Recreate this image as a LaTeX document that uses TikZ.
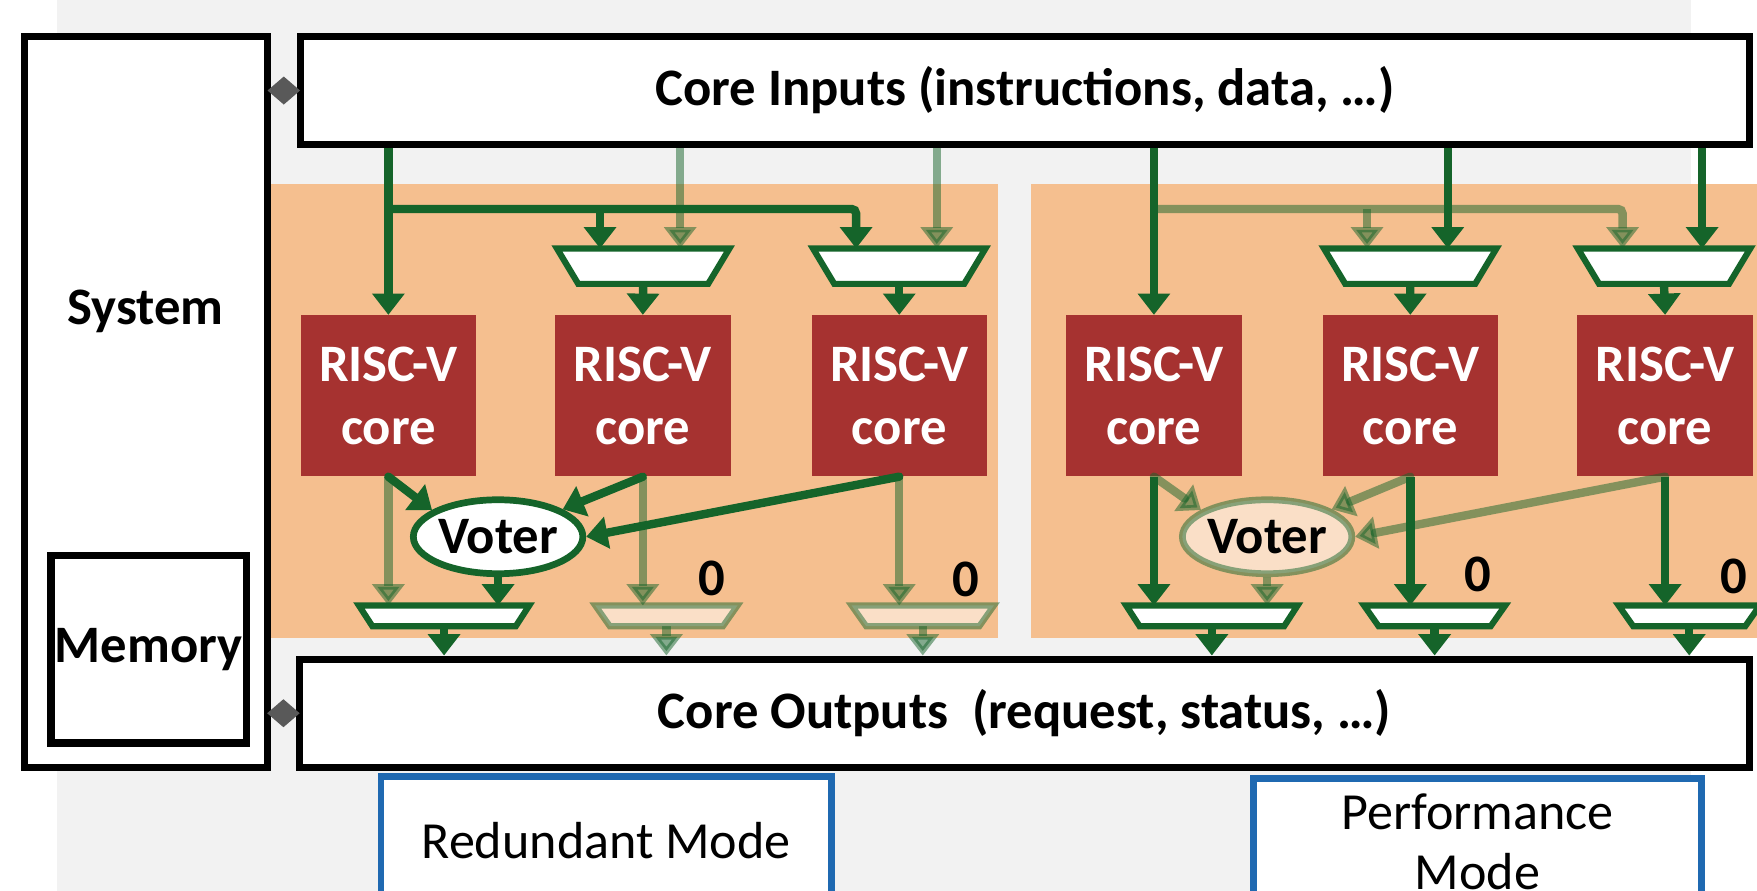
\documentclass[tikz,border=0pt]{standalone}
\usepackage{fontspec}
\setmainfont{Carlito}
\usetikzlibrary{arrows.meta,shapes.geometric,shadows}
\definecolor{gbg}{HTML}{F2F2F2}
\definecolor{org}{HTML}{F5BF8F}
\definecolor{cred}{HTML}{A63230}
\definecolor{dgreen}{HTML}{15642A}
\definecolor{mblue}{HTML}{1F69B1}
\definecolor{dgray}{HTML}{595959}
\newcommand{\muxbox}[5]{%
  \node[inner sep=0pt, outer sep=0pt, minimum width=#4, minimum height=#5] (#1) at (#2,#3) {};}
\newcommand{\muxdraw}[3]{%
  \path[#3] (#1.north west) -- (#1.north east) -- ([xshift=-#2]#1.south east) -- ([xshift=#2]#1.south west) -- cycle;}
\begin{document}
\begin{tikzpicture}[x=1pt,y=-1pt,
  big/.style={font=\fontsize{47}{56}\selectfont\bfseries},
  reg/.style={font=\fontsize{46.5}{54}\selectfont},
  box/.style={draw=black, line width=6.5pt, fill=white, inner sep=0pt, big},
  core/.style={fill=cred, minimum width=156.5pt, minimum height=144pt, inner sep=0pt, text=white, align=center, big},
  voter/.style={ellipse, draw=dgreen, line width=6pt, fill=white, minimum width=148pt, minimum height=66pt, inner sep=0pt, big},
  voterfad/.style={voter, draw opacity=0.5, fill opacity=0.5, text opacity=1},
  garrow/.style={draw=dgreen, line width=7.5pt, -{Triangle[width=28pt,length=19pt]}},
  fad/.style={opacity=0.5},
  muxline/.style={draw=dgreen, line width=5.5pt, fill=white, line join=miter},
  muxfad/.style={muxline, draw opacity=0.5, fill opacity=0.5},
  modebox/.style={draw=mblue, line width=6pt, fill=white, inner sep=0pt, reg, align=center,
    drop shadow={opacity=0.25, shadow xshift=2pt, shadow yshift=-2pt}},
  lbl/.style={inner sep=0pt, big},
  conn/.style={dgray, line width=0.5pt},
  dia/.style={diamond, fill=dgray, inner sep=0pt, outer sep=0pt, minimum width=29pt, minimum height=25pt}
]
\useasboundingbox (0,0) rectangle (1568,795);
\clip (0,0) rectangle (1568,795);
% backgrounds
\fill[gbg] (51,0) rectangle (1508.7,795);
\fill[org] (241.8,164) rectangle (891,569.6);
\fill[org] (920.5,164) rectangle (1568,569.6);

% system and IO boxes
\node[box, minimum width=216.9pt, minimum height=652.3pt] (sys) at (130.1,358.6) {};
\node[lbl] (systxt) at (130,278) {System};
\node[box, minimum width=174.3pt, minimum height=167pt] (mem) at (132.6,579.5) {Memory};
\node[box, minimum width=1293.3pt, minimum height=96.7pt] (ci) at (914.6,80.8) {Core Inputs (instructions, data, …)};
\node[box, minimum width=1294pt, minimum height=96.5pt] (co) at (914.3,636.5) {Core Outputs~ (request, status, …)};
\draw[conn] (sys.east |- ci.west) -- node[dia] (d1) {} (ci.west);
\draw[conn] (sys.east |- co.west) -- node[dia] (d2) {} (co.west);

% cores
\node[core] (c1) at (346.6,353.2) {RISC-V\\core};
\node[core] (c2) at (573.7,353.2) {RISC-V\\core};
\node[core] (c3) at (802.5,353.2) {RISC-V\\core};
\node[core] (c4) at (1029.8,353.2) {RISC-V\\core};
\node[core] (c5) at (1258.6,353.2) {RISC-V\\core};
\node[core] (c6) at (1486,353.2) {RISC-V\\core};

% mux nodes
\muxbox{mA2}{574}{237.5}{154pt}{31.6pt}
\muxbox{mA3}{802.5}{237.5}{154pt}{31.6pt}
\muxbox{mA5}{1258.5}{237.5}{154pt}{31.6pt}
\muxbox{mA6}{1485}{237.5}{154pt}{31.6pt}
\muxbox{mB1}{396.3}{549.6}{152pt}{18.5pt}
\muxbox{mB2}{594.7}{549.6}{127pt}{18.5pt}
\muxbox{mB3}{823.5}{549.6}{127pt}{18.5pt}
\muxbox{mB4}{1081.5}{549.6}{153pt}{18.5pt}
\muxbox{mB5}{1280.3}{549.6}{126pt}{18.5pt}
\muxbox{mB6}{1507.5}{549.6}{126pt}{18.5pt}

% mux input points
\coordinate (a2l) at ([xshift=-38.5pt]mA2.north);
\coordinate (a2r) at ([xshift=33pt]mA2.north);
\coordinate (a3l) at ([xshift=-38.5pt]mA3.north);
\coordinate (a3r) at ([xshift=33.5pt]mA3.north);
\coordinate (a5l) at ([xshift=-38.5pt]mA5.north);
\coordinate (a5r) at ([xshift=33.5pt]mA5.north);
\coordinate (a6l) at ([xshift=-37pt]mA6.north);
\coordinate (a6r) at ([xshift=34pt]mA6.north);
\coordinate (busL) at (346.6,186.5);
\coordinate (busR) at (1029.8,186.5);

% top wiring, left group
\draw[garrow, fad] (ci.south -| a2r) -- (a2r);
\draw[garrow, fad] (ci.south -| a3r) -- (a3r);
\draw[garrow] (c1 |- ci.south) -- (c1.north);
\draw[garrow, rounded corners=4pt] (busL) -| (a3l);
\draw[garrow] (busL -| a2l) -- (a2l);
% top wiring, right group
\draw[garrow] (c4 |- ci.south) -- (c4.north);
\draw[garrow, fad, rounded corners=4pt] (busR) -| (a6l);
\draw[garrow, fad] (busR -| a5l) -- (a5l);
\draw[garrow] (ci.south -| a5r) -- (a5r);
\draw[garrow] (ci.south -| a6r) -- (a6r);
% mux to core
\draw[garrow] (mA2.south) -- (c2.north);
\draw[garrow] (mA3.south) -- (c3.north);
\draw[garrow] (mA5.south) -- (c5.north);
\draw[garrow] (mA6.south) -- (c6.north);

% voters
\node[voter] (vL) at (444.5,479) {Voter};
\node[voterfad] (vR) at (1130.8,479) {Voter};

% bottom wiring, left group
\draw[garrow, fad] (c1.south) -- (c1.south |- mB1.north);
\draw[garrow, fad] (c2.south) -- (c2.south |- mB2.north);
\draw[garrow, fad] (c3.south) -- (c3.south |- mB3.north);
\draw[garrow, line cap=round] (c1.south) -- (vL.158);
\draw[garrow, line cap=round] (c2.south) -- (vL.23);
\draw[garrow, line cap=round] (c3.south) -- (vL.east);
\draw[garrow] (vL.south) -- (vL.south |- mB1.north);
% bottom wiring, right group
\draw[garrow, fad, line cap=round] (c4.south) -- (vR.158);
\draw[garrow, fad, line cap=round] (c5.south) -- (vR.23);
\draw[garrow, fad, line cap=round] (c6.south) -- (vR.east);
\draw[garrow, fad] (vR.south) -- (vR.south |- mB4.north);
\draw[garrow] (c4.south) -- (c4.south |- mB4.north);
\draw[garrow] (c5.south) -- (c5.south |- mB5.north);
\draw[garrow] (c6.south) -- (c6.south |- mB6.north);
% mux to outputs
\draw[garrow] (mB1.south) -- (mB1.south |- co.north);
\draw[garrow, fad] (mB2.south) -- (mB2.south |- co.north);
\draw[garrow, fad] (mB3.south) -- (mB3.south |- co.north);
\draw[garrow] (mB4.south) -- (mB4.south |- co.north);
\draw[garrow] (mB5.south) -- (mB5.south |- co.north);
\draw[garrow] (mB6.south) -- (mB6.south |- co.north);

% mux shapes
\muxdraw{mA2}{19pt}{muxline}
\muxdraw{mA3}{19pt}{muxline}
\muxdraw{mA5}{19pt}{muxline}
\muxdraw{mA6}{19pt}{muxline}
\muxdraw{mB1}{12pt}{muxline}
\muxdraw{mB2}{13pt}{muxfad}
\muxdraw{mB3}{13pt}{muxfad}
\muxdraw{mB4}{12pt}{muxline}
\muxdraw{mB5}{13pt}{muxline}
\muxdraw{mB6}{13pt}{muxline}

% zero constants
\node[lbl] (z2) at (635,516) {0};
\node[lbl] (z3) at (862,517) {0};
\node[lbl] (z5) at (1319,513) {0};
\node[lbl] (z6) at (1547,514) {0};

% mode boxes
\node[modebox, minimum width=402pt, minimum height=114pt] (red) at (541,750) {Redundant Mode};
\node[modebox, minimum width=400pt, minimum height=113pt] (perf) at (1318.6,751.2) {Performance\\Mode};
\end{tikzpicture}
\end{document}
